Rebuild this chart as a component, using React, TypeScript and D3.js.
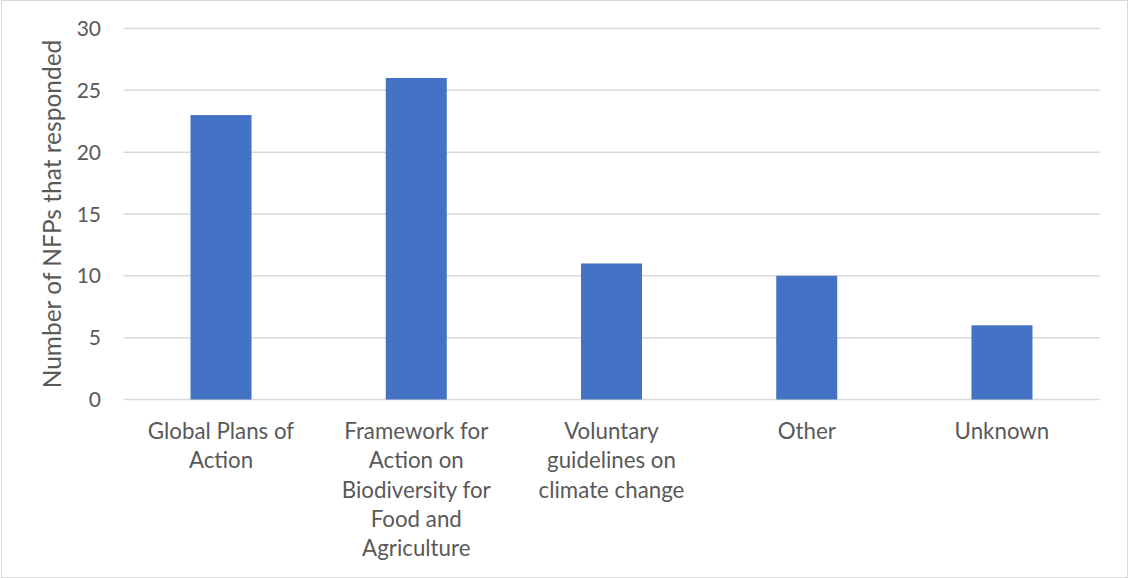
import React from "react";
import * as d3 from "d3";

const categories = [
  "Global Plans of Action",
  "Framework for Action on Biodiversity for Food and Agriculture",
  "Voluntary guidelines on climate change",
  "Other",
  "Unknown",
];
const categoryLines = [
  ["Global Plans of", "Action"],
  ["Framework for", "Action on", "Biodiversity for", "Food and", "Agriculture"],
  ["Voluntary", "guidelines on", "climate change"],
  ["Other"],
  ["Unknown"],
];
const values = [23, 26, 11, 10, 6];
const yTicks = [0, 5, 10, 15, 20, 25, 30];
const yTitle = "Number of NFPs that responded";

const W = 1129;
const H = 578;
const left = 123.4;
const right = 1099.6;
const top = 28.5;
const bottom = 399.5;
const font = "Lato, 'Open Sans', sans-serif";
const textColor = "#595959";

export default function App() {
  const x = d3.scaleBand<string>().domain(categories).range([left, right]).padding(0);
  const y = d3.scaleLinear().domain([0, 30]).range([bottom, top]);
  const bw = x.bandwidth() * 0.3125;
  return (
    <svg width={W} height={H} style={{ position: "absolute", left: 0, top: 0, display: "block" }}>
      <rect x={0} y={0} width={W} height={H} fill="#fff" />
      <rect x={1.5} y={0.5} width={W - 3} height={H - 1} fill="none" stroke="#d9d9d9" strokeWidth={1} />
      {yTicks.map((t) => (
        <g key={t}>
          <line x1={left} x2={right} y1={y(t)} y2={y(t)} stroke="#d9d9d9" strokeWidth={1.5} />
          <text x={101} y={y(t)} dy="0.36em" textAnchor="end" fontFamily={font} fontSize={21} fill={textColor}>
            {t}
          </text>
        </g>
      ))}
      {categories.map((c, i) => (
        <rect
          key={c}
          x={(x(c) as number) + x.bandwidth() / 2 - bw / 2}
          y={y(values[i])}
          width={bw}
          height={y(0) - y(values[i])}
          fill="#4472c4"
        />
      ))}
      {categories.map((c, i) => (
        <text key={c} x={(x(c) as number) + x.bandwidth() / 2} textAnchor="middle" fontFamily={font} fontSize={22.3} fill={textColor}>
          {categoryLines[i].map((l, j) => (
            <tspan key={j} x={(x(c) as number) + x.bandwidth() / 2} y={439 + j * 29.3}>
              {l}
            </tspan>
          ))}
        </text>
      ))}
      <text
        transform={`translate(61,${(top + bottom) / 2}) rotate(-90)`}
        textAnchor="middle"
        fontFamily={font}
        fontSize={24.5}
        fill={textColor}
      >
        {yTitle}
      </text>
    </svg>
  );
}
